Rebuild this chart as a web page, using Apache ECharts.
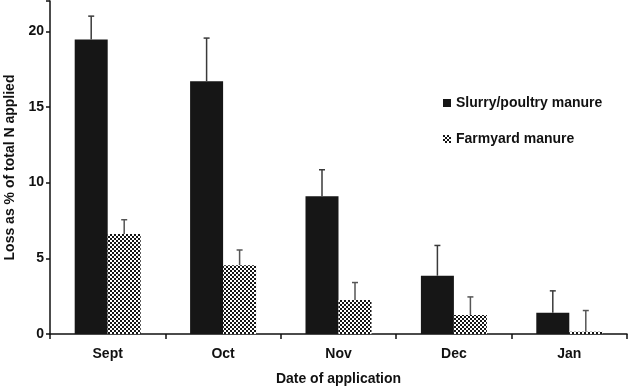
<!DOCTYPE html>
<html><head><meta charset="utf-8">
<script src="https://cdn.jsdelivr.net/npm/echarts@6/dist/echarts.min.js"></script>
<style>html,body{margin:0;padding:0;background:#fff}#c{width:628px;height:386px}</style>
</head><body><div id="c"></div>
<script>
var categories = ['Sept', 'Oct', 'Nov', 'Dec', 'Jan'];
var slurry = [19.45, 16.7, 9.1, 3.85, 1.4];
var slurryErr = [21.0, 19.55, 10.85, 5.85, 2.85];
var farmyard = [6.6, 4.55, 2.25, 1.25, 0.15];
var farmyardErr = [7.55, 5.55, 3.4, 2.45, 1.55];
var yTicks = [0, 5, 10, 15, 20];

var FONT = '"Liberation Sans", Arial, sans-serif';
var cv = document.createElement('canvas');
cv.width = 4; cv.height = 4;
var cx = cv.getContext('2d');
cx.fillStyle = '#fff'; cx.fillRect(0,0,4,4);
cx.fillStyle = '#151515';
cx.fillRect(0,0,2,2); cx.fillRect(2,2,2,2);
var pattern = {image: cv, repeat: 'repeat'};

var BW = 33;
function errItem(vals, errs, off, color) {
  return function (params, api) {
    var i = params.dataIndex;
    var p0 = api.coord([i, vals[i]]);
    var p1 = api.coord([i, errs[i]]);
    var x = p0[0] + off;
    return {type: 'group', children: [
      {type: 'line', shape: {x1: x, y1: p0[1], x2: x, y2: p1[1]}, style: {stroke: color, lineWidth: 1.5}},
      {type: 'line', shape: {x1: x - 3, y1: p1[1], x2: x + 3, y2: p1[1]}, style: {stroke: color, lineWidth: 1.5}}
    ]};
  };
}

var chart = echarts.init(document.getElementById('c'), null, {renderer: 'canvas'});
chart.setOption({
  animation: false,
  grid: {left: 50, right: 1, top: 1, bottom: 52, containLabel: false, outerBoundsMode: 'none'},
  legend: {
    orient: 'vertical', left: 443, top: 96, itemGap: 22, padding: 0,
    itemWidth: 8, itemHeight: 8, icon: 'rect',
    textStyle: {fontFamily: FONT, fontWeight: 'bold', fontSize: 14, color: '#111'},
    data: ['Slurry/poultry manure', 'Farmyard manure']
  },
  xAxis: {
    type: 'category', data: categories,
    name: 'Date of application', nameLocation: 'middle', nameGap: 38,
    nameTextStyle: {fontFamily: FONT, fontWeight: 'bold', fontSize: 14, color: '#111'},
    axisLine: {lineStyle: {color: '#111', width: 1.5}},
    axisTick: {show: true, length: 5, lineStyle: {color: '#111', width: 1.5}},
    axisLabel: {fontFamily: FONT, fontWeight: 'bold', fontSize: 14, color: '#111', margin: 13}
  },
  yAxis: {
    type: 'value', min: 0, max: 22, interval: 5,
    name: 'Loss as % of total N applied', nameLocation: 'middle', nameGap: 33,
    nameTextStyle: {fontFamily: FONT, fontWeight: 'bold', fontSize: 14, color: '#111'},
    splitLine: {show: false},
    axisLine: {show: true, lineStyle: {color: '#111', width: 1.5}},
    axisTick: {show: true, length: 4, lineStyle: {color: '#111', width: 1.5}},
    axisLabel: {fontFamily: FONT, fontWeight: 'bold', fontSize: 14, color: '#111', margin: 6,
      formatter: function (v) { return yTicks.indexOf(v) >= 0 ? String(v) : ''; }}
  },
  series: [
    {name: 'Slurry/poultry manure', type: 'bar', data: slurry, barWidth: BW, barGap: '0%',
      itemStyle: {color: '#161616'}},
    {name: 'Farmyard manure', type: 'bar', data: farmyard, barWidth: BW, barGap: '0%',
      itemStyle: {color: pattern}},
    {type: 'custom', data: slurry.map(function (v, i) { return [i, v]; }),
      renderItem: errItem(slurry, slurryErr, -BW / 2, '#3a3a3a'), z: 5, silent: true},
    {type: 'custom', data: farmyard.map(function (v, i) { return [i, v]; }),
      renderItem: errItem(farmyard, farmyardErr, BW / 2, '#555'), z: 5, silent: true}
  ]
});
</script></body></html>
